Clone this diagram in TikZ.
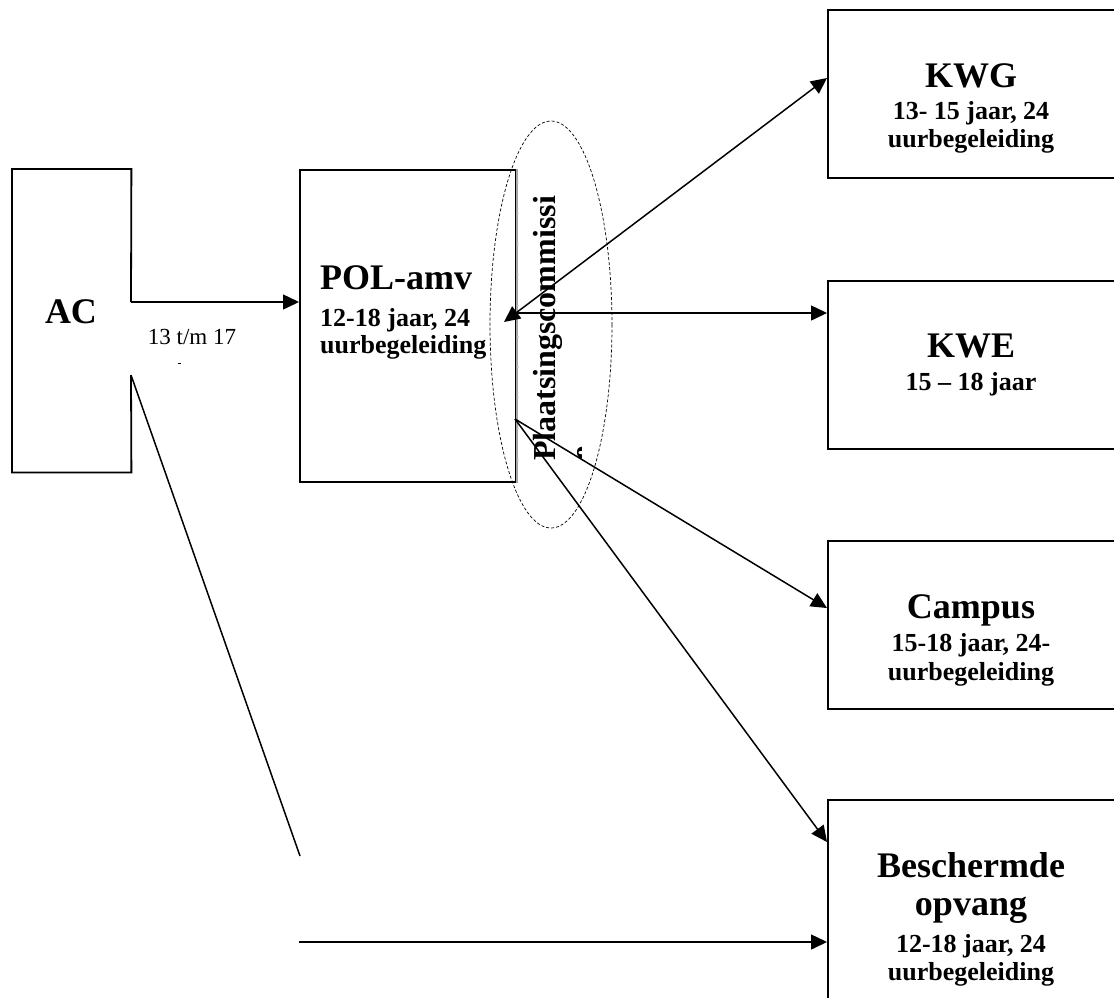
\documentclass[tikz,border=0pt]{standalone}
\usepackage{fontspec}
\setmainfont{Liberation Serif}
\usetikzlibrary{arrows.meta}
\begin{document}
\begin{tikzpicture}[x=1pt,y=-1pt,
  boxshape/.style={draw, line width=1.8pt, rectangle, inner sep=0, anchor=north west, minimum width=288pt},
  ttl/.style={font=\fontsize{36}{40}\selectfont\bfseries, anchor=base, inner sep=0},
  sub/.style={font=\fontsize{26}{29}\selectfont\bfseries, anchor=base, inner sep=0},
  conn/.style={line width=1.5pt},
  arr/.style={conn, -{Triangle[length=16pt,width=15pt]}},
  darr/.style={conn, {Triangle[length=16pt,width=15pt]}-{Triangle[length=16pt,width=15pt]}}]
\useasboundingbox (0,0) rectangle (1114,997);
\clip (0,0) rectangle (1114,997);
\fill[white] (0,0) rectangle (1114,997);

% AC box with a gap in its right side
\node[inner sep=0, minimum width=119pt, minimum height=303pt, anchor=north west] (AC) at (12,169) {};
\draw[line width=1.8pt] (131,375) -- (AC.south east) -- (AC.south west) -- (AC.north west) -- (AC.north east) -- (131,302);
\node[ttl] (ACt) at (71,323) {AC};
\node[font=\fontsize{23}{26}\selectfont, anchor=base, inner sep=0] (lab) at (192,344) {13 t/m 17};
\draw[line width=0.8pt] (178,363) -- (181,363);

% POL-amv box
\node[boxshape, minimum width=216pt, minimum height=312pt] (POL) at (299,169) {};
\draw[line width=2.5pt, gray!70] (POL.north east) -- (POL.south east);
\foreach \k in {0,...,9} \draw[line width=0.6pt, gray!40] (516.5,182+30.8*\k) -- (519,182+30.8*\k);
\node[ttl, anchor=base west] (POLt) at (320,289) {POL-amv};
\node[sub, anchor=base west] (POLa) at (320,326) {12-18 jaar, 24};
\node[sub, anchor=base west] (POLb) at (320,353) {uurbegeleiding};

% Plaatsingscommissie ellipse
\draw[line width=0.7pt, dash pattern=on 3pt off 2pt] (551,324.5) ellipse [x radius=61, y radius=203.5];
\node[rotate=90, anchor=base, inner sep=0, font=\fontsize{32}{36}\selectfont\bfseries] (PC) at (555,328.5) {Plaatsingscommissi};
\begin{scope}
\clip (570,440) rectangle (581.5,465);
\node[rotate=90, anchor=base west, inner sep=0, font=\fontsize{32}{36}\selectfont\bfseries] (PCe) at (592,461) {e};
\end{scope}

% right boxes
\node[boxshape, minimum height=168pt] (KWG) at (827,9) {};
\node[ttl] (KWGt) at (971,87) {KWG};
\node[sub] (KWGa) at (971,119) {13- 15 jaar, 24};
\node[sub] (KWGb) at (971,147.5) {uurbegeleiding};

\node[boxshape, minimum height=168pt] (KWE) at (827,280) {};
\node[ttl] (KWEt) at (971,357) {KWE};
\node[sub] (KWEa) at (971,390) {15 -- 18 jaar};

\node[boxshape, minimum height=168pt] (CAM) at (827,540) {};
\node[ttl] (CAMt) at (971,618) {Campus};
\node[sub] (CAMa) at (971,651) {15-18 jaar, 24-};
\node[sub] (CAMb) at (971,680) {uurbegeleiding};

\node[boxshape, minimum height=240pt] (BES) at (827,799) {};
\node[ttl] (BESt) at (971,877) {Beschermde};
\node[ttl] (BESu) at (971,915) {opvang};
\node[sub] (BESa) at (971,952) {12-18 jaar, 24};
\node[sub] (BESb) at (971,980) {uurbegeleiding};

% connector points
\coordinate (acOut) at (131,302);
\coordinate (polIn) at (299,302);
\coordinate (acLow) at (131,375);
\coordinate (bend) at (300,856);
\coordinate (hStart) at (299,942);
\coordinate (besIn2) at (827,942);
\coordinate (pA) at (504,322);
\coordinate (pH) at (515,313);
\coordinate (pB) at (515,419);
\coordinate (kwgIn) at (827,78);
\coordinate (kweIn) at (827,313);
\coordinate (camIn) at (827,608);
\coordinate (besIn) at (827,842);

\draw[arr] (acOut) -- (polIn);
\draw[conn] (acLow) -- (bend);
\draw[arr] (hStart) -- (besIn2);
\draw[darr] (pA) -- (kwgIn);
\draw[arr] (pH) -- (kweIn);
\draw[arr] (pB) -- (camIn);
\draw[arr] (pB) -- (besIn);
\end{tikzpicture}
\end{document}
